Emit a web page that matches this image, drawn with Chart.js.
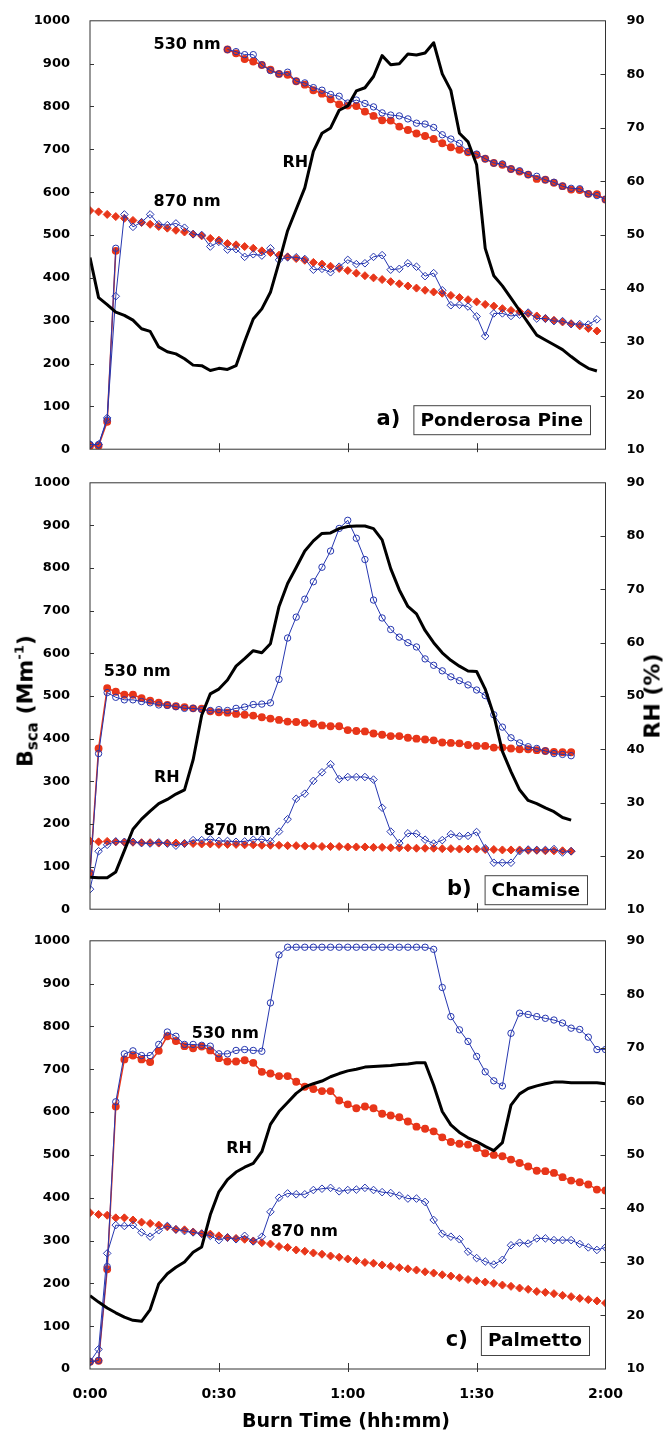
<!DOCTYPE html>
<html>
<head>
<meta charset="utf-8">
<script src="https://cdn.jsdelivr.net/npm/chart.js@4.4.1/dist/chart.umd.min.js"></script>
<style>
  body { margin: 0; background: #fff; width: 670px; height: 1435px; position: relative; overflow: hidden;
         font-family: "DejaVu Sans", Verdana, sans-serif; font-weight: bold; color: #000; }
  canvas { position: absolute; left: 0; }
  .ttl { position: absolute; white-space: nowrap; transform: translate(-50%, -50%); }
  .rot { transform: translate(-50%, -50%) rotate(-90deg); }
  .sub { font-size: 15px; position: relative; top: 5px; }
  .sup { font-size: 13px; position: relative; top: -9px; }
</style>
</head>
<body>
<canvas id="chartA" width="670" height="470" style="top:0px"></canvas>
<canvas id="chartB" width="670" height="468" style="top:462px"></canvas>
<canvas id="chartC" width="670" height="515" style="top:920px"></canvas>
<div class="ttl rot" style="left:25px; top:701px; font-size:22px;">B<span class="sub">sca</span> (Mm<span class="sup">-1</span>)</div>
<div class="ttl rot" style="left:652px; top:696px; font-size:22px;">RH (%)</div>
<div class="ttl" style="left:346px; top:1420px; font-size:19px;">Burn Time (hh:mm)</div>
<script>
// burn time in minutes, one sample every 2 min
const minutes = [0, 2, 4, 6, 8, 10, 12, 14, 16, 18, 20, 22, 24, 26, 28, 30, 32, 34, 36, 38, 40,
  42, 44, 46, 48, 50, 52, 54, 56, 58, 60, 62, 64, 66, 68, 70, 72, 74, 76, 78, 80,
  82, 84, 86, 88, 90, 92, 94, 96, 98, 100, 102, 104, 106, 108, 110, 112, 114, 116, 118, 120];

// a) Ponderosa Pine
const a530Meas = [11, 11, 68, 469, null, null, null, null, null, null, null, null, null, null, null, null,
  933, 928, 921, 921, 897, 884, 876, 880, 859, 855, 844, 838, 828, 824, 808, 815, 807, 799, 785, 780,
  778, 771, 761, 759, 751, 734, 724, 714, 695, 689, 678, 668, 666, 654, 650, 641, 637, 629, 623, 614,
  609, 608, 596, 592, 583];
const a530Corr = [8, 8, 64, 463, null, null, null, null, null, null, null, null, null, null, null, null,
  933, 924, 911, 905, 897, 886, 876, 874, 859, 851, 838, 830, 817, 805, 802, 801, 788, 778, 768, 767,
  753, 745, 737, 731, 724, 714, 705, 699, 693, 687, 678, 668, 664, 654, 648, 641, 631, 629, 622, 614,
  606, 605, 596, 595, 583];
const a870Meas = [11, 11, 73, 357, 548, 519, 530, 548, 525, 523, 527, 517, 502, 500, 473, 484, 466, 467,
  449, 455, 452, 469, 442, 448, 448, 444, 419, 421, 413, 426, 442, 432, 434, 449, 453, 419, 421, 434,
  426, 404, 411, 371, 336, 337, 333, 310, 264, 317, 317, 311, 314, 319, 305, 305, 299, 299, 292, 292,
  291, 303, null];
const a870Corr = [557, 554, 548, 543, 539, 534, 529, 525, 520, 516, 511, 507, 502, 498, 492, 488, 480,
  477, 473, 469, 463, 459, 453, 449, 445, 441, 436, 432, 427, 422, 417, 411, 405, 400, 396, 391, 386,
  381, 376, 371, 367, 364, 359, 354, 349, 344, 338, 334, 328, 324, 321, 317, 311, 305, 301, 297, 293,
  288, 282, 276, null];
const aRH = [45.8, 38.3, 37.0, 35.6, 35.0, 34.1, 32.5, 32.0, 29.1, 28.2, 27.8, 26.9, 25.7, 25.6, 24.7,
  25.1, 24.9, 25.6, 30.1, 34.3, 36.2, 39.3, 44.9, 50.8, 54.8, 58.8, 65.6, 69.0, 70.0, 73.3, 74.1, 76.9,
  77.5, 79.6, 83.5, 81.8, 82.0, 83.8, 83.6, 84.0, 85.9, 80.1, 77.0, 69.0, 67.4, 63.1, 47.5, 42.4, 40.5,
  38.2, 35.9, 33.6, 31.3, 30.4, 29.5, 28.6, 27.3, 26.1, 25.1, 24.6, null];

// b) Chamise
const b530Meas = [83, 365, 508, 497, 491, 491, 487, 484, 479, 478, 475, 471, 471, 468, 466, 468, 466,
  471, 474, 480, 481, 484, 539, 636, 685, 727, 768, 802, 840, 893, 912, 870, 820, 725, 683, 656, 638,
  625, 615, 587, 572, 559, 545, 536, 526, 514, 501, 456, 427, 402, 390, 381, 377, 371, 365, 363, 360,
  null, null, null, null];
const b530Corr = [85, 377, 518, 510, 503, 503, 495, 489, 484, 479, 476, 474, 471, 470, 464, 462, 461,
  458, 456, 454, 450, 447, 444, 440, 439, 437, 435, 431, 429, 429, 420, 418, 417, 412, 409, 406, 406,
  402, 400, 398, 396, 391, 390, 389, 385, 383, 383, 379, 379, 377, 375, 375, 373, 371, 369, 368, 368,
  null, null, null, null];
const b870Meas = [47, 136, 151, 159, 158, 158, 155, 154, 157, 154, 149, 154, 162, 162, 164, 160, 160,
  158, 159, 163, 164, 159, 182, 211, 259, 271, 301, 321, 340, 305, 310, 310, 310, 304, 238, 182, 155,
  178, 177, 163, 154, 162, 176, 171, 172, 181, 143, 109, 109, 109, 136, 140, 139, 139, 141, 133, 136,
  null, null, null, null];
const b870Corr = [160, 158, 159, 158, 157, 157, 156, 156, 155, 155, 155, 154, 154, 153, 153, 152, 152,
  152, 151, 151, 150, 150, 150, 149, 149, 148, 148, 147, 147, 147, 146, 146, 146, 145, 145, 144, 144,
  144, 143, 143, 143, 142, 142, 141, 141, 141, 140, 140, 139, 139, 139, 138, 138, 137, 137, 137, 136,
  null, null, null, null];
const bRH = [16.0, 15.9, 15.9, 17.0, 21.0, 25.0, 26.9, 28.4, 29.8, 30.6, 31.6, 32.4, 38.0, 46.4, 50.4,
  51.3, 53.0, 55.6, 57.0, 58.5, 58.1, 59.8, 66.8, 71.1, 74.1, 77.2, 79.1, 80.5, 80.6, 81.4, 81.8, 81.9,
  81.9, 81.4, 79.3, 73.9, 69.9, 66.8, 65.4, 62.3, 60.0, 58.1, 56.7, 55.6, 54.7, 54.6, 51.3, 46.4, 39.6,
  35.8, 32.4, 30.4, 29.8, 29.0, 28.3, 27.2, 26.7, null, null, null, null];

// c) Palmetto
const c530Meas = [17, 20, 239, 624, 736, 743, 732, 732, 758, 787, 777, 758, 758, 756, 754, 736, 736,
  744, 746, 744, 742, 855, 967, 985, 985, 985, 985, 985, 985, 985, 985, 985, 985, 985, 985, 985, 985,
  985, 985, 985, 980, 891, 823, 792, 765, 730, 694, 673, 661, 784, 831, 828, 823, 819, 815, 808, 796,
  793, 775, 746, 746];
const c530Corr = [17, 19, 233, 613, 723, 732, 723, 717, 743, 777, 766, 754, 749, 753, 744, 726, 718,
  718, 721, 715, 694, 690, 684, 684, 671, 659, 654, 649, 649, 627, 618, 609, 613, 609, 596, 592, 588,
  578, 566, 561, 555, 541, 530, 526, 524, 516, 504, 500, 497, 489, 481, 473, 463, 462, 458, 448, 440,
  436, 431, 419, 417];
const c870Meas = [17, 46, 270, 336, 334, 336, 319, 309, 324, 334, 326, 322, 319, 316, 311, 301, 307,
  303, 311, 298, 309, 367, 400, 410, 408, 408, 418, 421, 423, 415, 418, 419, 423, 418, 413, 411, 405,
  398, 398, 390, 348, 316, 309, 303, 274, 259, 251, 244, 255, 289, 295, 293, 305, 305, 301, 301, 301,
  292, 284, 278, 284];
const c870Corr = [365, 361, 359, 353, 353, 348, 343, 340, 336, 332, 326, 325, 320, 316, 315, 311, 307,
  305, 303, 299, 295, 292, 286, 284, 278, 275, 271, 268, 264, 261, 257, 253, 249, 247, 243, 240, 237,
  234, 231, 227, 224, 220, 217, 213, 209, 206, 203, 200, 196, 193, 189, 186, 181, 179, 176, 172, 169,
  165, 162, 159, 154];
const cRH = [23.7, 22.5, 21.4, 20.5, 19.7, 19.1, 18.9, 21.1, 25.9, 27.8, 29.0, 30.0, 31.8, 32.8, 38.8,
  43.1, 45.4, 46.8, 47.7, 48.4, 50.6, 55.7, 58.1, 59.8, 61.5, 62.7, 63.3, 63.8, 64.6, 65.2, 65.7, 66.0,
  66.4, 66.5, 66.6, 66.7, 66.9, 67.0, 67.2, 67.2, 63.0, 58.1, 55.6, 54.2, 53.2, 52.5, 51.6, 50.8, 52.3,
  59.3, 61.4, 62.4, 62.9, 63.3, 63.6, 63.6, 63.5, 63.5, 63.5, 63.5, 63.3];

const BLUE = '#2637b0';
const RED = '#e8361a';
const FONT = "'DejaVu Sans', Verdana, sans-serif";

Chart.defaults.font.family = FONT;
Chart.defaults.font.weight = 'bold';
Chart.defaults.color = '#000';

const fmtTime = v => Math.floor(v / 60) + ':' + String(v % 60).padStart(2, '0');
const pts = arr => minutes.map((t, i) => ({ x: t, y: arr[i] }));

// frame, inward tick marks, series labels and the panel name box
const decor = {
  id: 'decor',
  afterDraw(chart, args, opts) {
    const { ctx, chartArea: a, scales } = chart;
    ctx.save();
    ctx.strokeStyle = '#333';
    ctx.lineWidth = 1;
    ctx.strokeRect(a.left, a.top, a.width, a.height);
    ctx.beginPath();
    scales.x.ticks.forEach(t => {
      if (t.value <= scales.x.min || t.value >= scales.x.max) return;
      const px = Math.round(scales.x.getPixelForValue(t.value)) + 0.5;
      ctx.moveTo(px, a.bottom - 6); ctx.lineTo(px, a.bottom + 3);
    });
    scales.y.ticks.forEach(t => {
      if (t.value <= scales.y.min || t.value >= scales.y.max) return;
      const py = Math.round(scales.y.getPixelForValue(t.value)) + 0.5;
      ctx.moveTo(a.left, py); ctx.lineTo(a.left + 4, py);
    });
    scales.y2.ticks.forEach(t => {
      if (t.value <= scales.y2.min || t.value >= scales.y2.max) return;
      const py = Math.round(scales.y2.getPixelForValue(t.value)) + 0.5;
      ctx.moveTo(a.right - 5, py); ctx.lineTo(a.right, py);
    });
    ctx.stroke();

    ctx.fillStyle = '#000';
    ctx.textAlign = 'center';
    ctx.textBaseline = 'middle';
    ctx.font = 'bold 16px ' + FONT;
    opts.labels.forEach(l => {
      ctx.fillText(l.text, scales.x.getPixelForValue(l.t), scales.y.getPixelForValue(l.v));
    });

    ctx.font = 'bold 18.5px ' + FONT;
    const w = ctx.measureText(opts.name).width + 14;
    const h = 29;
    const right = a.right - opts.gapR;
    const bottom = a.bottom - opts.gapB;
    ctx.fillStyle = '#fff';
    ctx.fillRect(right - w, bottom - h, w, h);
    ctx.strokeStyle = '#444';
    ctx.strokeRect(right - w + 0.5, bottom - h + 0.5, w, h);
    ctx.fillStyle = '#000';
    ctx.fillText(opts.name, right - w / 2, bottom - h / 2 + 1);
    ctx.font = 'bold 21px ' + FONT;
    ctx.textAlign = 'right';
    ctx.fillText(opts.tag, right - w - 13, bottom - h / 2);
    ctx.restore();
  }
};

function makePanel(id, p) {
  return new Chart(document.getElementById(id), {
    type: 'line',
    data: {
      datasets: [
        { data: pts(p.rh), yAxisID: 'y2', borderColor: '#000', borderWidth: 3, pointRadius: 0,
          borderJoinStyle: 'round', order: 0 },
        { data: pts(p.meas530), yAxisID: 'y', borderColor: BLUE, borderWidth: 1, pointStyle: 'circle',
          pointRadius: 3.2, pointBorderColor: BLUE, pointBackgroundColor: 'rgba(255,255,255,0)',
          pointBorderWidth: 1, order: 1 },
        { data: pts(p.meas870), yAxisID: 'y', borderColor: BLUE, borderWidth: 1, pointStyle: 'rectRot',
          pointRadius: 3.8, pointBorderColor: BLUE, pointBackgroundColor: 'rgba(255,255,255,0)',
          pointBorderWidth: 1, order: 1 },
        { data: pts(p.corr530), yAxisID: 'y', borderColor: RED, borderWidth: 1.5, pointStyle: 'circle',
          pointRadius: 3.2, pointBorderColor: RED, pointBackgroundColor: RED, order: 2 },
        { data: pts(p.corr870), yAxisID: 'y', showLine: false, pointStyle: 'rectRot',
          pointRadius: 4, pointBorderColor: RED, pointBackgroundColor: RED, order: 2 }
      ]
    },
    options: {
      responsive: false,
      animation: false,
      events: [],
      layout: { padding: { top: p.padTop, left: 0, right: 0, bottom: 0 } },
      plugins: {
        legend: { display: false },
        tooltip: { enabled: false },
        decor: { labels: p.labels, name: p.name, tag: p.tag, gapR: p.gapR, gapB: p.gapB }
      },
      scales: {
        x: {
          type: 'linear', min: 0, max: 120,
          grid: { display: false }, border: { display: false },
          ticks: { stepSize: 30, display: p.showX, callback: fmtTime, font: { size: 14, weight: 'bold' },
                   padding: 9, maxRotation: 0, autoSkip: false },
          afterFit: s => { s.height = p.xHeight; }
        },
        y: {
          position: 'left', min: 0, max: 1000,
          grid: { display: false }, border: { display: false },
          ticks: { stepSize: 100, font: { size: 13, weight: 'bold' }, padding: 12, autoSkip: false,
                   callback: v => String(v) },
          afterFit: s => { s.width = 90; }
        },
        y2: {
          position: 'right', min: 10, max: 90,
          grid: { display: false }, border: { display: false },
          ticks: { stepSize: 10, font: { size: 13, weight: 'bold' }, padding: 13, autoSkip: false,
                   callback: v => String(v) },
          afterFit: s => { s.width = 64.5; }
        }
      }
    },
    plugins: [decor]
  });
}

makePanel('chartA', {
  meas530: a530Meas, corr530: a530Corr, meas870: a870Meas, corr870: a870Corr, rh: aRH,
  padTop: 20, xHeight: 18, showX: false, name: 'Ponderosa Pine', tag: 'a)', gapR: 15.5, gapB: 15,
  labels: [{ text: '530 nm', t: 22.6, v: 944 }, { text: '870 nm', t: 22.6, v: 578 }, { text: 'RH', t: 47.8, v: 669 }]
});
makePanel('chartB', {
  meas530: b530Meas, corr530: b530Corr, meas870: b870Meas, corr870: b870Corr, rh: bRH,
  padTop: 19.5, xHeight: 18, showX: false, name: 'Chamise', tag: 'b)', gapR: 18.5, gapB: 5,
  labels: [{ text: '530 nm', t: 11.0, v: 556 }, { text: 'RH', t: 17.9, v: 307 }, { text: '870 nm', t: 34.3, v: 184 }]
});
makePanel('chartC', {
  meas530: c530Meas, corr530: c530Corr, meas870: c870Meas, corr870: c870Corr, rh: cRH,
  padTop: 18, xHeight: 66, showX: true, name: 'Palmetto', tag: 'c)', gapR: 16.5, gapB: 14,
  labels: [{ text: '530 nm', t: 31.5, v: 782 }, { text: 'RH', t: 34.7, v: 513 }, { text: '870 nm', t: 49.9, v: 320 }]
});
</script>
</body>
</html>
